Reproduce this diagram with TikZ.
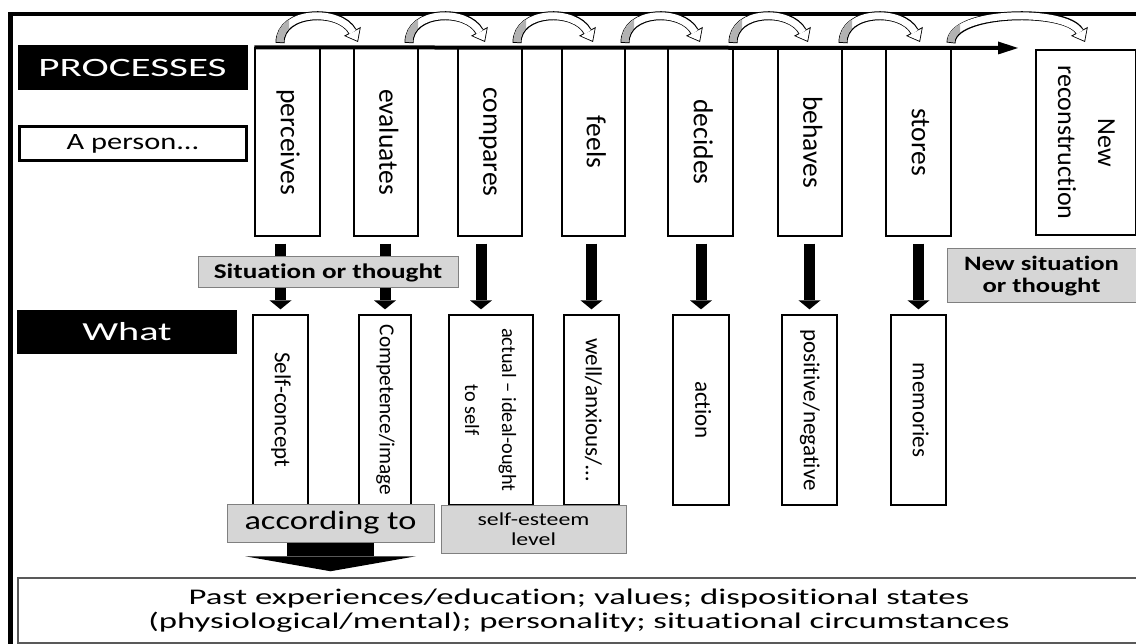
\documentclass[tikz,border=0pt]{standalone}
\usepackage{fontspec}
\usepackage{graphicx}
\usetikzlibrary{arrows.meta}
\newfontfamily\vfont[Ligatures=NoCommon]{Carlito}
\newfontfamily\wfont[FakeStretch=1.3,Ligatures=NoCommon]{Carlito}
\newfontfamily\wwfont[FakeStretch=1.55,Ligatures=NoCommon]{Carlito}
\newcommand{\vt}[3]{\rotatebox{-90}{\vfont\fontsize{#1}{#2}\selectfont\begin{tabular}{@{}c@{}}#3\end{tabular}}}
\tikzstyle{procbox}=[draw=black,line width=1.3pt,fill=white,inner sep=0pt,minimum height=188pt]
\tikzstyle{whatbox}=[draw=black,line width=1.3pt,fill=white,inner sep=0pt,minimum height=190pt]
\tikzstyle{greybox}=[draw=black!50,line width=1pt,fill=black!16,inner sep=0pt,align=center]
\tikzstyle{headbox}=[fill=black,text=white,inner sep=0pt,minimum width=230pt]
\tikzstyle{downarr}=[line width=11pt,-{Triangle[length=9pt,width=22pt,line width=0pt]},shorten <=7pt,shorten >=5pt]

\begin{document}
\begin{tikzpicture}[x=1pt,y=-1pt]
	\useasboundingbox[fill=white] (0,0) rectangle (1136,644);
	\draw[line width=4.5pt] (10.5,14) rectangle (1200,700);
	\node[headbox,minimum height=45pt,font=\wwfont\fontsize{26.5}{30}\selectfont] (proc) at (132.5,67.5) {PROCESSES};
	\node[draw=black,line width=3pt,fill=white,inner sep=0pt,minimum width=227pt,minimum height=34pt,font=\wfont\fontsize{23.4}{27}\selectfont] (pers) at (133,143.5) {A person...};
	\node[headbox,minimum width=220pt,minimum height=44pt,font=\wwfont\fontsize{26}{30}\selectfont] (what) at (127,332) {What};
	\node[procbox,minimum width=65pt] (p1) at (287.5,142) {\vt{27.5}{33}{perceives}};
	\node[procbox,minimum width=64pt] (p2) at (386,142) {\vt{27.5}{33}{evaluates}};
	\node[procbox,minimum width=64pt] (p3) at (490,142) {\vt{27.5}{33}{compares}};
	\node[procbox,minimum width=63pt] (p4) at (593.5,142) {\vt{27.5}{33}{feels}};
	\node[procbox,minimum width=65pt] (p5) at (700.5,142) {\vt{27.5}{33}{decides}};
	\node[procbox,minimum width=64pt] (p6) at (810,142) {\vt{27.5}{33}{behaves}};
	\node[procbox,minimum width=65pt] (p7) at (918.5,142) {\vt{27.5}{33}{stores}};
	\node[procbox,minimum width=100pt,minimum height=185pt] (p8) at (1086,142.5) {\vt{26}{40}{New\\reconstruction}};
	\node[whatbox,minimum width=55pt] (w1) at (280.5,410) {\vt{23}{28}{Self-concept}};
	\node[whatbox,minimum width=52pt] (w2) at (385,410) {\vt{21.3}{26}{Competence/image}};
	\node[whatbox,minimum width=84pt] (w3) at (491,410) {\vt{20.3}{37}{actual – ideal-ought\\to self}};
	\node[whatbox,minimum width=55pt] (w4) at (591.5,410) {\vt{23}{28}{well/anxious/…}};
	\node[whatbox,minimum width=56pt] (w5) at (701,410) {\vt{23}{28}{action}};
	\node[whatbox,minimum width=55pt] (w6) at (809.5,410) {\vt{23}{28}{positive/negative}};
	\node[whatbox,minimum width=55pt] (w7) at (918.5,410) {\vt{23}{28}{memories}};
	\coordinate (c3) at ([xshift=-10pt]w3.north);
	\draw[downarr] (p1.south -| w1.north) -- (w1.north);
	\draw[downarr] (p2.south -| w2.north) -- (w2.north);
	\draw[downarr] (c3 |- p3.south) -- (c3);
	\draw[downarr] (p4.south -| w4.north) -- (w4.north);
	\draw[downarr] (p5.south -| w5.north) -- (w5.north);
	\draw[downarr] (p6.south -| w6.north) -- (w6.north);
	\draw[downarr] (p7.south -| w7.north) -- (w7.north);
	\node[greybox,minimum width=260pt,minimum height=31pt,font=\wfont\bfseries\fontsize{20.9}{24}\selectfont] (sit) at (328,272.5) {Situation or thought};
	\node[greybox,minimum width=189pt,minimum height=54pt,font=\wfont\bfseries\fontsize{20.5}{22.5}\selectfont] (nsit) at (1041.5,276) {New situation\\or thought};
	\node[greybox,minimum width=207pt,minimum height=38pt,font=\wfont\fontsize{26.4}{30}\selectfont] (acc) at (330.5,523) {according to};
	\node[greybox,minimum width=185pt,minimum height=48pt,font=\wfont\fontsize{18.3}{20}\selectfont] (est) at (533.5,529) {self-esteem\\level};
	\node[draw=black!65,line width=1.5pt,fill=white,minimum width=1122pt,minimum height=65pt,align=center,font=\wwfont\fontsize{22.4}{23.5}\selectfont] (past) at (579,610.5) {Past experiences/education; values; dispositional states\\(physiological/mental); personality; situational circumstances};
	\draw[line width=87pt,-{Triangle[length=15pt,width=171pt,line width=0pt]},shorten >=6pt] (acc.south) -- (acc.south |- past.north);
	\coordinate (tend) at (1018,48);
	\draw[line width=4pt,-{Triangle[length=20pt,width=13pt,line width=0pt]}] (p1.north west) -- (tend);
	\foreach \s/\e in {280/358,409/485,517/593,625/700,733/808,843/920,951/1085}{
		\draw[line width=9pt,-{Triangle[length=12pt,width=19pt,line width=0pt]}] (\s,43) .. controls (\s,10) and (\e-18,8) .. (\e,42);
		\draw[white,line width=7pt,shorten <=1pt,shorten >=1.4pt,-{Triangle[length=9.6pt,width=15.4pt,line width=0pt]}] (\s,43) .. controls (\s,10) and (\e-18,8) .. (\e,42);
		\begin{scope}
			\clip (\s-8,0) rectangle (\s+9,46);
			\draw[black!30,line width=7pt,shorten <=1pt] (\s,43) .. controls (\s,10) and (\e-18,8) .. (\e,42);
		\end{scope}
	}
\end{tikzpicture}
\end{document}
